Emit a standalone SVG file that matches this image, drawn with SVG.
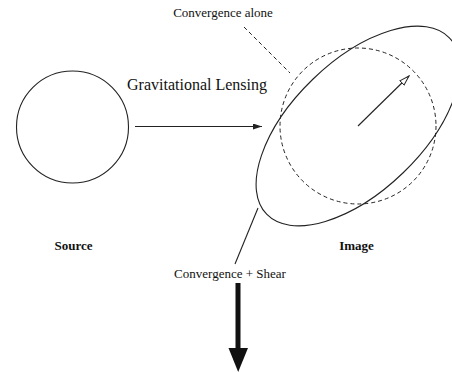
<svg xmlns="http://www.w3.org/2000/svg" width="452" height="372" viewBox="0 0 452 372">
<style>
.ln{fill:none;stroke:#222;stroke-width:1.1}
.ds{fill:none;stroke:#222;stroke-width:1;stroke-dasharray:4,3}
text{font-family:"Liberation Serif","Times New Roman",serif;fill:#111}
.lbl{font-size:13px}
.b{font-size:13px;font-weight:bold}
</style>
<defs>
<marker id="ah" markerWidth="10" markerHeight="8" refX="9" refY="3" orient="auto" markerUnits="userSpaceOnUse">
<path d="M0,0 L9,3 L0,6 Z" fill="#222"/>
</marker>
<marker id="oh" markerWidth="12" markerHeight="8" refX="10" refY="3.5" orient="auto" markerUnits="userSpaceOnUse">
<path d="M0,0.5 L10,3.5 L0,6.5 Z" fill="#fff" stroke="#222" stroke-width="1"/>
</marker>
</defs>
<rect width="452" height="372" fill="#fff"/>
<g id="source">
<circle class="ln" cx="72.5" cy="127" r="56"/>
<text class="b" x="73.5" y="250" text-anchor="middle">Source</text>
</g>
<g id="image">
<circle class="ds" cx="358" cy="126" r="78"/>
<ellipse class="ln" cx="358" cy="126" rx="127" ry="65" transform="rotate(-44 358 126)"/>
<line class="ln" x1="358" y1="126" x2="409" y2="76" marker-end="url(#oh)"/>
<text class="b" x="356.5" y="250" text-anchor="middle">Image</text>
</g>
<g id="labels">
<text class="lbl" x="223" y="17" text-anchor="middle">Convergence alone</text>
<text x="197" y="90" text-anchor="middle" font-size="16">Gravitational Lensing</text>
<text class="lbl" x="230" y="278" text-anchor="middle">Convergence + Shear</text>
</g>
<g id="connectors">
<line class="ln" x1="135" y1="126.5" x2="262" y2="126.5" marker-end="url(#ah)"/>
<line class="ds" x1="244" y1="27" x2="290" y2="73"/>
<line class="ln" x1="235" y1="264" x2="258" y2="208"/>
<rect x="235.5" y="283" width="5" height="66" fill="#111"/>
<path d="M228.5,348 L248,348 L238.2,372 Z" fill="#111"/>
</g>
</svg>
